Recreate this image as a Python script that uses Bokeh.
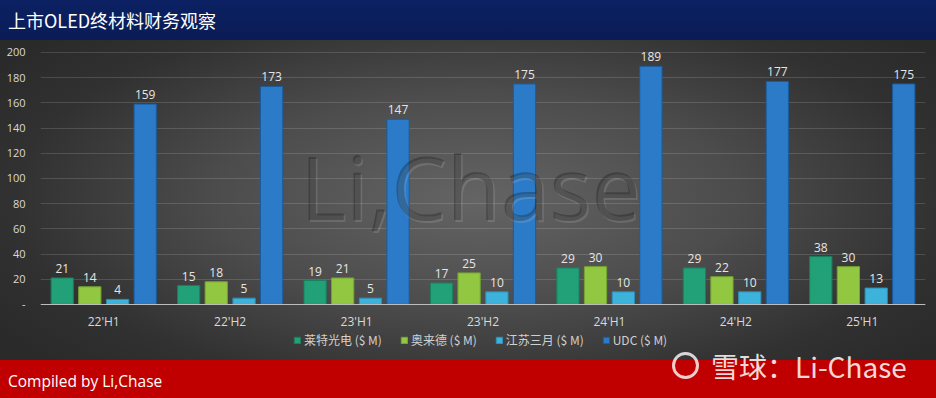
from bokeh.plotting import figure
from bokeh.models import ColumnDataSource, FactorRange, FixedTicker, Range1d, Label, Div
from bokeh.transform import dodge
from bokeh.layouts import column
from bokeh.core.properties import value
from bokeh.embed import file_html
from bokeh.resources import INLINE

# ---- data ----
periods = ["22'H1", "22'H2", "23'H1", "23'H2", "24'H1", "24'H2", "25'H1"]
laite = [21, 15, 19, 17, 29, 29, 38]        # 莱特光电
aolaide = [14, 18, 21, 25, 30, 22, 30]      # 奥来德
jiangsu = [4, 5, 5, 10, 10, 10, 13]         # 江苏三月
udc = [159, 173, 147, 175, 189, 177, 175]   # UDC
series_keys = ["laite", "aolaide", "jiangsu", "udc"]
series_names = ["莱特光电 ($ M)", "奥来德 ($ M)", "江苏三月 ($ M)", "UDC ($ M)"]
y_ticks = [0, 20, 40, 60, 80, 100, 120, 140, 160, 180, 200]
title_text = "上市OLED终材料财务观察"
footer_text = "Compiled by Li,Chase"

# ---- styles ----
colors = ["#22a077", "#92c741", "#3db2db", "#2c7bc8"]
edges = ["#17805e", "#74a52f", "#2a90b8", "#1b5c9e"]
offsets = [-0.328, -0.11, 0.11, 0.328]
bar_w = 0.176
txt = "#d9d9d9"

data = dict(period=periods, laite=laite, aolaide=aolaide, jiangsu=jiangsu, udc=udc)
for k in series_keys:
    data[k + "_lbl"] = [str(v) for v in data[k]]
src = ColumnDataSource(data)

W = 936
p = figure(x_range=FactorRange(*periods, range_padding=0),
           y_range=Range1d(-44.5, 209.5),
           width=W, height=320, output_backend="svg", toolbar_location=None,
           min_border_left=40, min_border_right=11, min_border_top=0, min_border_bottom=0)
p.background_fill_alpha = 0
p.border_fill_alpha = 0
p.outline_line_color = None
p.styles = {"background": "radial-gradient(ellipse 62% 75% at 51% 50%, #646464 0%, #4c4c4c 45%, #313131 80%, #2a2a2a 100%)"}

for k, name, c, e, off in zip(series_keys, series_names, colors, edges, offsets):
    p.vbar(x=dodge("period", off, range=p.x_range), top=k, width=bar_w, source=src,
           fill_color=c, line_color=e, line_width=1, legend_label=name)
    p.text(x=dodge("period", off, range=p.x_range), y=k, text=k + "_lbl", source=src,
           text_align="center", text_baseline="bottom", y_offset=-5,
           text_font=value("Open Sans"), text_font_size="12px", text_color="#e6e6e6")

# axes
p.yaxis.ticker = FixedTicker(ticks=y_ticks)
p.yaxis.major_label_overrides = {0: "-"}
p.yaxis.axis_line_color = None
p.yaxis.major_tick_line_color = None
p.yaxis.minor_tick_line_color = None
p.yaxis.major_label_standoff = 9
p.yaxis.major_label_text_color = txt
p.yaxis.major_label_text_font = "Open Sans"
p.yaxis.major_label_text_font_size = "11px"

p.xaxis.fixed_location = 0
p.xaxis.axis_line_color = "#bdbdbd"
p.xaxis.major_tick_line_color = None
p.xaxis.minor_tick_line_color = None
p.xaxis.major_label_standoff = 3
p.xaxis.major_label_text_color = txt
p.xaxis.major_label_text_font = "Open Sans"
p.xaxis.major_label_text_font_size = "12px"

p.xgrid.grid_line_color = None
p.ygrid.grid_line_color = "white"
p.ygrid.grid_line_alpha = 0.14

# legend
lg = p.legend[0]
lg.orientation = "horizontal"
lg.location = (253, 12)
lg.background_fill_alpha = 0
lg.border_line_alpha = 0
lg.padding = 0
lg.margin = 0
lg.spacing = 18
lg.glyph_width = 8
lg.glyph_height = 8
lg.label_height = 14
lg.label_standoff = 3
lg.label_text_font = "Noto Sans CJK SC"
lg.label_text_font_size = "12px"
lg.label_text_color = "#d0d0d0"

# embossed watermark
p.add_layout(Label(x=3.4, y=94, text="Li,Chase", text_align="center", text_baseline="middle",
                   text_font="Open Sans", text_font_size="88px", text_color="white",
                   text_alpha=0.12, x_offset=1.5, y_offset=-1.5))
p.add_layout(Label(x=3.4, y=94, text="Li,Chase", text_align="center", text_baseline="middle",
                   text_font="Open Sans", text_font_size="88px", text_color="black",
                   text_alpha=0.25))

title = Div(text=f'<div style="font-family:\'Noto Sans CJK SC\';font-size:18px;color:white;'
                 f'line-height:40px;padding-left:8px;white-space:nowrap;">{title_text}</div>',
            width=W, height=40, margin=0,
            styles={"background": "linear-gradient(#0c2163, #0a1c56)"})

footer = Div(text=('<div style="position:relative;width:936px;height:38px;">'
                   f'<span style="position:absolute;left:8px;top:10px;font-family:\'Open Sans\';'
                   f'font-size:15.5px;color:white;white-space:nowrap;">{footer_text}</span>'
                   '<span style="position:absolute;left:672px;top:-8px;width:27px;height:27px;'
                   'border:3px solid rgba(255,255,255,0.8);border-radius:50%;"></span>'
                   '<span style="position:absolute;left:711px;top:-14px;font-family:\'Noto Sans CJK SC\';'
                   'font-size:28px;color:rgba(255,255,255,0.85);white-space:nowrap;">雪球：Li-Chase</span>'
                   '</div>'),
             width=W, height=38, margin=0,
             styles={"background-color": "#c00000", "overflow": "visible"})

layout = column(title, p, footer, spacing=0)
open("out.html", "w").write(file_html(layout, INLINE))
